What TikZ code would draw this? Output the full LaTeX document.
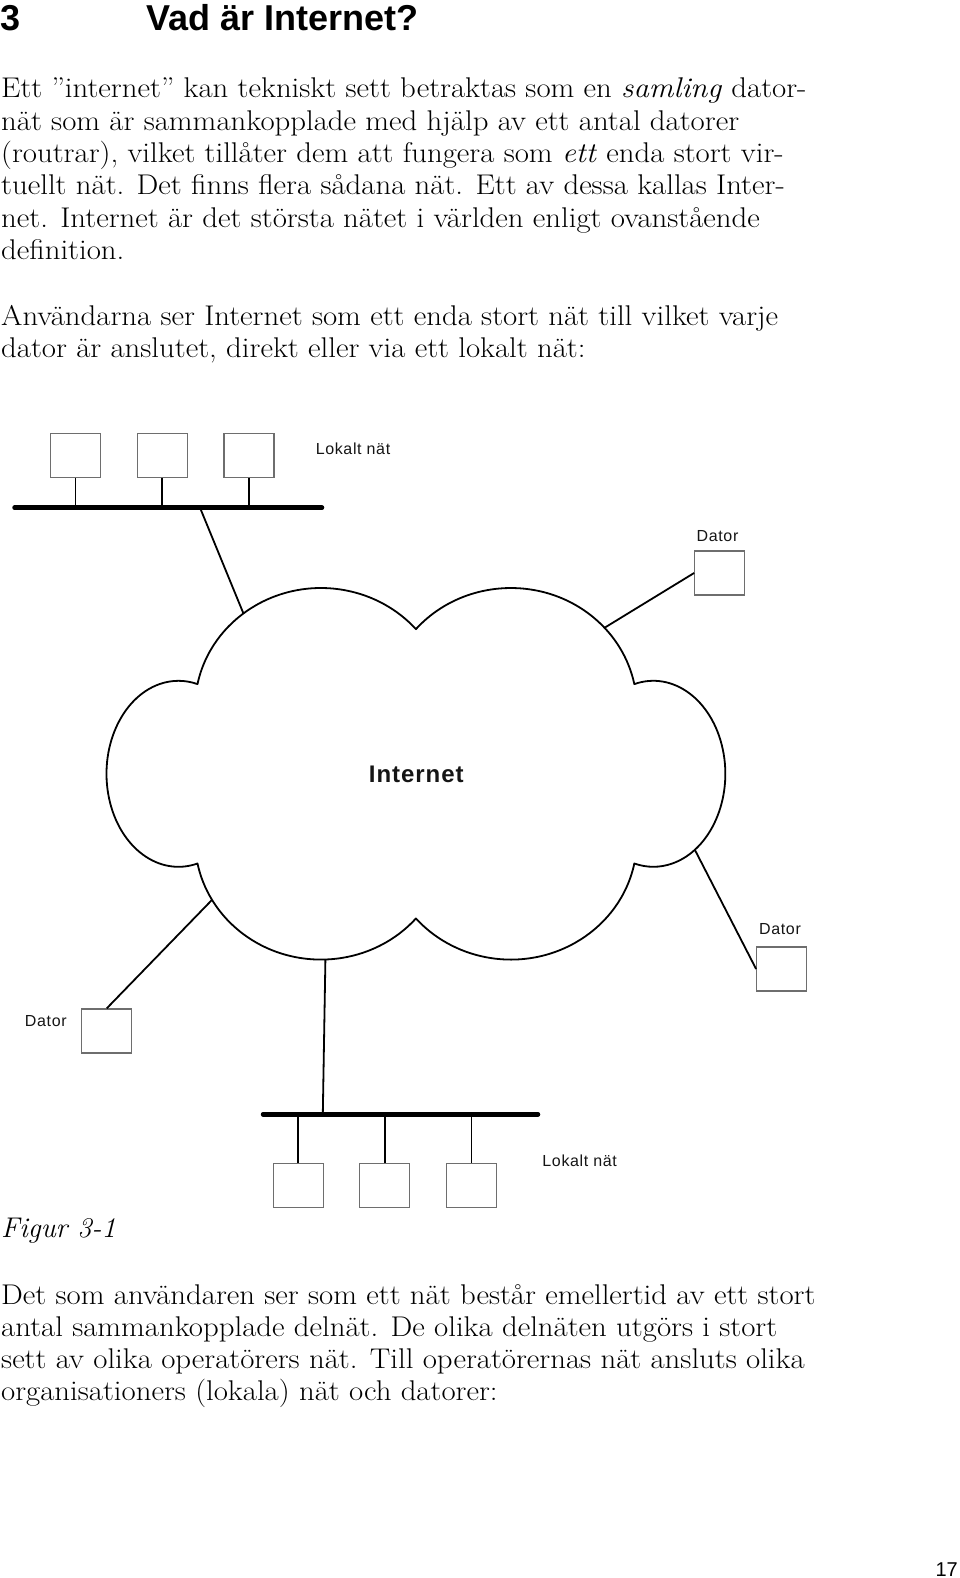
\documentclass[tikz,border=0pt]{standalone}
\usepackage{fontspec}
\usepackage{graphicx}
\usetikzlibrary{calc}
\newfontfamily\headfont{Liberation Sans}
\newfontfamily\labelfont[LetterSpace=4]{Liberation Sans}
\definecolor{ink}{HTML}{151515}
\definecolor{boxgray}{HTML}{6E6E6E}
\newcommand\widetext[1]{\scalebox{1.08}[1]{#1}}
\tikzset{
  bodytext/.style={anchor=base west,inner sep=0pt,
                   font=\fontsize{28.5}{32}\selectfont},
  headtext/.style={anchor=base west,inner sep=0pt,
                   font=\headfont\bfseries\fontsize{36}{42}\selectfont},
  lbl/.style={anchor=base,inner sep=0pt,text=ink,
              font=\labelfont\fontsize{16}{19}\selectfont},
  pcbox/.style={draw=boxgray,line width=1.2pt,
                minimum width=50pt,minimum height=44pt,inner sep=0pt},
  bus/.style={line width=4.5pt,line cap=round},
  link/.style={line width=1.8pt},
  cloudline/.style={line width=1.8pt,line join=round}
}

\begin{document}
\begin{tikzpicture}[x=1pt,y=1pt]
  \fill[white] (0,0) rectangle (960,-1578);
  \useasboundingbox (0,0) rectangle (960,-1578);

  % heading
  \node[headtext] (hnum) at (0,-31) {3};
  \node[headtext] (htitle) at (146,-31) {Vad är Internet?};

  % text above the figure
  \foreach \txt [count=\k] in {
      {Ett ”internet” kan tekniskt sett betraktas som en \emph{samling} dator-},
      {nät som är sammankopplade med hjälp av ett antal datorer},
      {(routrar), vilket tillåter dem att fungera som \emph{ett} enda stort vir-},
      {tuellt nät. Det finns flera sådana nät. Ett av dessa kallas Inter-},
      {net. Internet är det största nätet i världen enligt ovanstående},
      {definition.}}
    \node[bodytext] (pa\k) at (1,{-98-32.3*(\k-1)}) {\widetext{\txt}};
  \foreach \txt [count=\k] in {
      {Användarna ser Internet som ett enda stort nät till vilket varje},
      {dator är anslutet, direkt eller via ett lokalt nät:}}
    \node[bodytext] (pb\k) at (1,{-325.5-32.3*(\k-1)}) {\widetext{\txt}};

  % upper local net
  \foreach \i/\x in {1/75.4,2/162.2,3/249}
    \node[pcbox] (t\i) at (\x,-455.3) {};
  \coordinate (tbusL) at (14.5,-507.7);
  \coordinate (tbusR) at (322,-507.7);
  \draw[bus] (tbusL) -- (tbusR);
  \foreach \i in {1,2,3}
    \draw[link] (t\i.south) -- (t\i.south |- tbusL);
  \node[lbl] (tlan) at (353,-454) {Lokalt nät};

  % the cloud
  \coordinate (cA) at (197.5,-684.1);
  \draw[cloudline] (cA)
    arc[start angle=168.5,end angle=41.1,x radius=126,y radius=120]
    arc[start angle=138.9,end angle=11.5,x radius=126,y radius=120]
    arc[start angle=105.3,end angle=-105.3,x radius=72,y radius=93]
    arc[start angle=-11.5,end angle=-138.9,x radius=126,y radius=120]
    arc[start angle=-41.1,end angle=-168.5,x radius=126,y radius=120]
    arc[start angle=-74.7,end angle=-285.3,x radius=72,y radius=93] -- cycle;
  \node[anchor=base,inner sep=0pt,text=ink,
        font=\labelfont\bfseries\fontsize{24}{28}\selectfont] (inet) at (416.3,-782.7) {Internet};

  \coordinate (lobeTL) at (321,-708);
  \coordinate (lobeTR) at (511,-708);
  \coordinate (lobeR) at (653,-774);
  \coordinate (lobeBL) at (321,-840);
  \coordinate (cTL) at ($(lobeTL)+(128:126 and 120)$);
  \coordinate (cTR) at ($(lobeTR)+(42:126 and 120)$);
  \coordinate (cR) at ($(lobeR)+(-54.5:72 and 93)$);
  \coordinate (cBL) at ($(lobeBL)+(-150:126 and 120)$);
  \coordinate (cB) at ($(lobeBL)+(-88:126 and 120)$);

  % single computers
  \node[pcbox] (dtr) at (719.7,-573) {};
  \node[lbl] (ltr) at (717.5,-541.7) {Dator};
  \node[pcbox] (ddr) at (781.7,-969) {};
  \node[lbl] (ldr) at (780,-934) {Dator};
  \node[pcbox] (ddl) at (106.7,-1031) {};
  \node[lbl] (ldl) at (45.8,-1026.7) {Dator};

  \coordinate (tap) at (200,-507.7);
  \draw[link] (tap) -- (cTL);
  \draw[link] (cTR) -- (dtr.west);
  \draw[link] (cR) -- (ddr.west);
  \draw[link] (cBL) -- (ddl.north);

  % lower local net
  \coordinate (bbusL) at (263,-1114.3);
  \coordinate (bbusR) at (538,-1114.3);
  \coordinate (bap) at (322.8,-1114.3);
  \draw[link] (cB) -- (bap);
  \draw[bus] (bbusL) -- (bbusR);
  \foreach \i/\x in {1/298.2,2/384.8,3/471.4} {
    \node[pcbox] (b\i) at (\x,-1185.3) {};
    \draw[link] (b\i.north |- bbusL) -- (b\i.north);
  }
  \node[lbl] (blan) at (579.7,-1166.7) {Lokalt nät};

  \node[bodytext,font=\itshape\fontsize{28.5}{32}\selectfont] (fig) at (1,-1237) {Figur 3-1};

  % text below the figure
  \foreach \txt [count=\k] in {
      {Det som användaren ser som ett nät består emellertid av ett stort},
      {antal sammankopplade delnät. De olika delnäten utgörs i stort},
      {sett av olika operatörers nät. Till operatörernas nät ansluts olika},
      {organisationers (lokala) nät och datorer:}}
    \node[bodytext] (pc\k) at (1,{-1304-32.3*(\k-1)}) {\widetext{\txt}};

  \node[anchor=base east,inner sep=0pt,
        font=\headfont\fontsize{20}{24}\selectfont] (pgno) at (958,-1576) {17};
\end{tikzpicture}
\end{document}
